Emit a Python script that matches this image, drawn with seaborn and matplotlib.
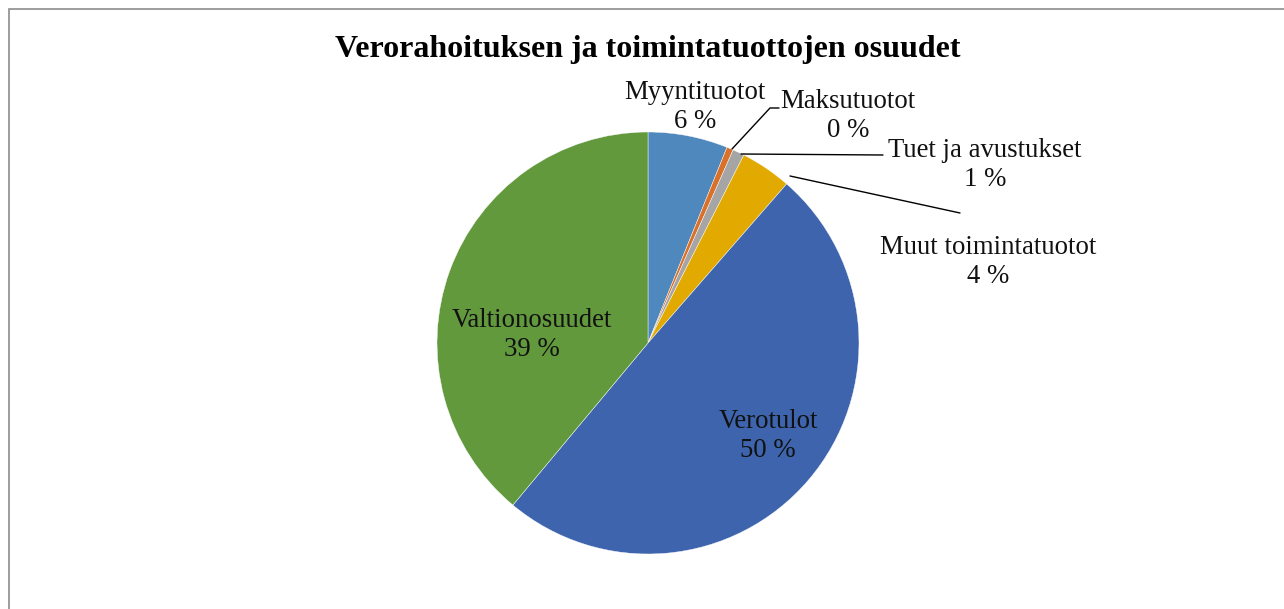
import matplotlib
matplotlib.use("Agg")
import matplotlib.pyplot as plt
import seaborn as sns
from matplotlib.patches import Rectangle

# Osuudet (%), luettu kuvasta
categories = ["Myyntituotot", "Maksutuotot", "Tuet ja avustukset",
              "Muut toimintatuotot", "Verotulot", "Valtionosuudet"]
shares = [6.1, 0.5, 0.9, 3.9, 49.6, 38.9]
colors = ["#4F88BC", "#D9712A", "#A5A5A5", "#E2AA00", "#3D64AC", "#63993D"]
title = "Verorahoituksen ja toimintatuottojen osuudet"

sns.set_theme(style="white")
plt.rcParams["font.family"] = ["Liberation Serif", "DejaVu Serif"]

W, H = 1284, 609
fig = plt.figure(figsize=(W / 100, H / 100), dpi=100)
ax = fig.add_axes([0, 0, 1, 1])

# chart frame (only left/top visible)
fig.patches.append(Rectangle((8.5 / W, -0.1), 1.2, (H - 8.5) / H + 0.1,
                             transform=fig.transFigure, fill=False,
                             edgecolor="#8C8C8C", linewidth=1.2))

cx, cy, r = 648, H - 343, 211
wedges, _ = ax.pie(shares, colors=colors, startangle=90, counterclock=False,
                   center=(cx, cy), radius=r, frame=True,
                   wedgeprops=dict(edgecolor="white", linewidth=0.3))
ax.set_xlim(0, W)
ax.set_ylim(0, H)
ax.set_aspect("equal")
ax.axis("off")


def px(x, y):
    return x, H - y


fs = 19.3
# label positions (pixel coords, text centre) and leader line points
label_pos = {
    "Myyntituotot": (695, 107),
    "Maksutuotot": (848, 116),
    "Tuet ja avustukset": (985, 165),
    "Muut toimintatuotot": (988, 262),
    "Verotulot": (768, 436),
    "Valtionosuudet": (532, 335),
}
leaders = {
    "Maksutuotot": [(732, 149), (770, 108), (779, 108)],
    "Tuet ja avustukset": [(741, 154), (883, 155)],
    "Muut toimintatuotot": [(790, 176), (960, 213)],
}

for name, val in zip(categories, shares):
    x, y = label_pos[name]
    ax.text(*px(x, y), f"{name}\n{round(val):.0f} %", ha="center", va="center",
            fontsize=fs, color="#111111", linespacing=1.22)
    if name in leaders:
        pts = [px(*p) for p in leaders[name]]
        ax.plot([p[0] for p in pts], [p[1] for p in pts], color="black", lw=1.0)

ax.text(*px(648, 49), title, ha="center", va="center", fontsize=23,
        fontweight="bold", color="black")

fig.savefig("out.png", dpi=100, facecolor="white")
